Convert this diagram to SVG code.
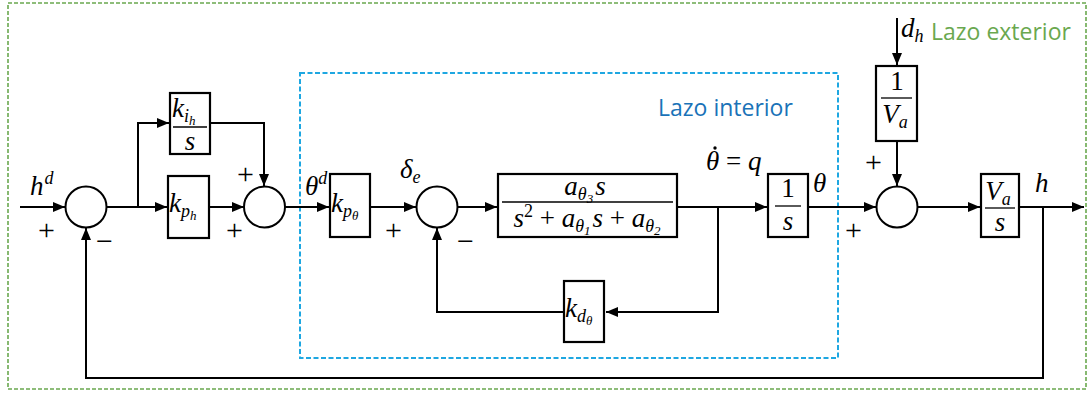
<svg xmlns="http://www.w3.org/2000/svg" width="1089" height="394" viewBox="0 0 1089 394">
<defs>
<marker id="ah" viewBox="0 0 12 10" refX="12" refY="5" markerWidth="12" markerHeight="10" markerUnits="userSpaceOnUse" orient="auto">
<path d="M0,0 L12,5 L0,10 Z" fill="#000"/>
</marker>
</defs>
<style>
.blk{fill:#fff;stroke:#000;stroke-width:2.2}
.sum{fill:#fff;stroke:#000;stroke-width:2}
.ln{fill:none;stroke:#000;stroke-width:2}
.fr{stroke:#000;stroke-width:1.3}
.m{font-family:"Liberation Serif","DejaVu Serif",serif;font-style:italic;font-size:27px;fill:#000}
.r{font-family:"Liberation Serif","DejaVu Serif",serif;font-size:27px;fill:#000}
.sg{font-family:"Liberation Serif","DejaVu Serif",serif;font-size:30px;fill:#000}
.lbl{font-family:"Open Sans","Noto Sans",sans-serif;font-size:23px}
</style>
<rect x="8" y="3" width="1078" height="386" fill="none" stroke="#6aa84f" stroke-width="1.6" stroke-dasharray="4,2"/>
<rect x="300" y="73" width="538" height="285" fill="none" stroke="#1ea7e1" stroke-width="2" stroke-dasharray="5,2.5"/>
<text class="lbl" x="931" y="40" fill="#6aa84f">Lazo exterior</text>
<text class="lbl" x="658" y="116" fill="#1a73b8">Lazo interior</text>

<g id="connectors">
<path class="ln" d="M20,207 H65" marker-end="url(#ah)"/>
<path class="ln" d="M107,207 H167" marker-end="url(#ah)"/>
<path class="ln" d="M138,207 V123 H169" marker-end="url(#ah)"/>
<path class="ln" d="M210,207 H244" marker-end="url(#ah)"/>
<path class="ln" d="M211,123 H264 V186" marker-end="url(#ah)"/>
<path class="ln" d="M285,207 H329" marker-end="url(#ah)"/>
<path class="ln" d="M371,207 H416" marker-end="url(#ah)"/>
<path class="ln" d="M458,207 H497" marker-end="url(#ah)"/>
<path class="ln" d="M678,207 H767" marker-end="url(#ah)"/>
<path class="ln" d="M718,207 V312 H606" marker-end="url(#ah)"/>
<path class="ln" d="M564,312 H437 V228" marker-end="url(#ah)"/>
<path class="ln" d="M809,207 H876" marker-end="url(#ah)"/>
<path class="ln" d="M897,18 V65" marker-end="url(#ah)"/>
<path class="ln" d="M897,142 V186" marker-end="url(#ah)"/>
<path class="ln" d="M918,207 H980" marker-end="url(#ah)"/>
<path class="ln" d="M1020,207 H1084" marker-end="url(#ah)"/>
<path class="ln" d="M1043,207 V378 H86 V228" marker-end="url(#ah)"/>
</g>

<g id="sum1"><circle class="sum" cx="86" cy="207" r="20.5"/>
<text class="sg" x="38" y="240">+</text><text class="sg" x="96" y="251">−</text></g>
<text class="m" x="30" y="195">h<tspan font-size="18" dy="-11" dx="1">d</tspan></text>

<g id="kih"><rect class="blk" x="170" y="93" width="40" height="61"/>
<line class="fr" x1="173" y1="127" x2="207" y2="127"/>
<text class="m" x="172" y="117">k<tspan font-size="18" dy="5">i</tspan><tspan font-size="13" dy="3">h</tspan></text>
<text class="m" x="190" y="150" text-anchor="middle">s</text></g>

<g id="kph"><rect class="blk" x="168" y="176" width="41" height="62"/>
<text class="m" x="169" y="212">k<tspan font-size="18" dy="5">p</tspan><tspan font-size="13" dy="3">h</tspan></text></g>

<g id="sum2"><circle class="sum" cx="264.5" cy="207" r="20.5"/>
<text class="sg" x="237" y="184">+</text><text class="sg" x="226" y="240">+</text></g>

<text class="m" x="305" y="195">θ<tspan font-size="18" dy="-11">d</tspan></text>

<g id="kptheta"><rect class="blk" x="330" y="174" width="40" height="63"/>
<text class="m" x="331" y="212">k<tspan font-size="18" dy="5">p</tspan><tspan font-size="13" dy="3">θ</tspan></text></g>

<g id="sum3"><circle class="sum" cx="437" cy="207" r="20.5"/>
<text class="sg" x="385" y="240">+</text><text class="sg" x="457" y="251">−</text></g>
<text class="m" x="400" y="178">δ<tspan font-size="18" dy="5">e</tspan></text>

<g id="plant"><rect class="blk" x="498" y="174" width="179" height="63"/>
<line class="fr" x1="502" y1="202" x2="673" y2="202"/>
<text class="m" x="585" y="195" text-anchor="middle">a<tspan font-size="18" dy="5">θ</tspan><tspan font-size="13" dy="3">3</tspan><tspan dy="-8" dx="2">s</tspan></text>
<text class="m" x="587" y="227" text-anchor="middle">s<tspan font-size="18" dy="-10" font-style="normal">2</tspan><tspan dy="10" font-style="normal"> + </tspan>a<tspan font-size="18" dy="5">θ</tspan><tspan font-size="13" dy="3">1</tspan><tspan dy="-8" dx="2">s </tspan><tspan font-style="normal">+ </tspan>a<tspan font-size="18" dy="5">θ</tspan><tspan font-size="13" dy="3">2</tspan></text></g>
<text class="m" x="706" y="170">θ <tspan font-style="normal">=</tspan> q</text>
<circle cx="715" cy="148" r="1.7" fill="#000"/>

<g id="integ"><rect class="blk" x="768" y="174" width="40" height="63"/>
<line class="fr" x1="775" y1="206" x2="801" y2="206"/>
<text class="r" x="788" y="197" text-anchor="middle">1</text>
<text class="m" x="788" y="230" text-anchor="middle">s</text></g>
<text class="m" x="813" y="192">θ</text>

<g id="kdtheta"><rect class="blk" x="564" y="281" width="40" height="61"/>
<text class="m" x="565" y="317">k<tspan font-size="18" dy="5">d</tspan><tspan font-size="13" dy="3">θ</tspan></text></g>

<g id="invva"><rect class="blk" x="876" y="66" width="41" height="75"/>
<line class="fr" x1="881" y1="98" x2="912" y2="98"/>
<text class="r" x="897" y="90" text-anchor="middle">1</text>
<text class="m" x="895" y="123" text-anchor="middle">V<tspan font-size="18" dy="5">a</tspan></text></g>
<text class="m" x="901" y="37">d<tspan font-size="18" dy="5">h</tspan></text>

<g id="sum4"><circle class="sum" cx="897" cy="207" r="20.5"/>
<text class="sg" x="865" y="172">+</text><text class="sg" x="845" y="240">+</text></g>

<g id="vas"><rect class="blk" x="981" y="174" width="38" height="63"/>
<line class="fr" x1="985" y1="208" x2="1015" y2="208"/>
<text class="m" x="998" y="200" text-anchor="middle">V<tspan font-size="18" dy="5">a</tspan></text>
<text class="m" x="1000" y="231" text-anchor="middle">s</text></g>
<text class="m" x="1035" y="192">h</text>
</svg>
